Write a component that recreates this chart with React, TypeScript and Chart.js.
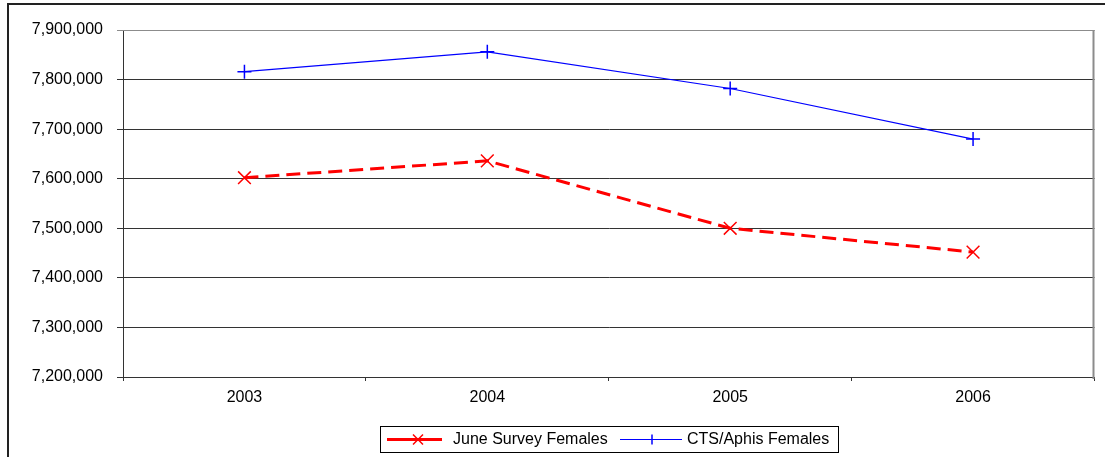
import React, { useEffect, useRef } from "react";
import { Chart, registerables } from "chart.js";

Chart.register(...registerables);

const categories = ["2003", "2004", "2005", "2006"];
const juneSurveyFemales = [7602000, 7636000, 7500000, 7452000];
const ctsAphisFemales = [7816000, 7856000, 7782000, 7680000];
const seriesNames = ["June Survey Females", "CTS/Aphis Females"];
const yMin = 7200000;
const yMax = 7900000;
const yStep = 100000;

const FONT = "'Liberation Sans', Arial, sans-serif";

const framePlugin = {
  id: "frame",
  afterDraw(chart: any) {
    const { ctx, chartArea } = chart;
    ctx.save();
    // outer border
    ctx.strokeStyle = "#222";
    ctx.lineWidth = 2;
    ctx.strokeRect(8, 4, 1300, 800);
    // plot area top/right grey frame
    ctx.strokeStyle = "#8c8c8c";
    ctx.lineWidth = 1;
    ctx.beginPath();
    ctx.moveTo(chartArea.left, chartArea.top + 0.5);
    ctx.lineTo(chartArea.right, chartArea.top + 0.5);
    ctx.stroke();
    ctx.lineWidth = 2;
    ctx.beginPath();
    ctx.moveTo(chartArea.right - 1, chartArea.top);
    ctx.lineTo(chartArea.right - 1, chartArea.bottom + 2);
    ctx.stroke();

    // legend
    ctx.strokeStyle = "#000";
    ctx.lineWidth = 1;
    ctx.strokeRect(380.5, 426.5, 458, 26);
    const ly = 439.5;
    // red entry
    ctx.strokeStyle = "#ff0000";
    ctx.lineWidth = 3;
    ctx.beginPath();
    ctx.moveTo(387, ly);
    ctx.lineTo(442, ly);
    ctx.stroke();
    ctx.lineWidth = 1.5;
    ctx.beginPath();
    ctx.moveTo(418 - 5, ly - 5);
    ctx.lineTo(418 + 5, ly + 5);
    ctx.moveTo(418 - 5, ly + 5);
    ctx.lineTo(418 + 5, ly - 5);
    ctx.stroke();
    // blue entry
    ctx.strokeStyle = "#0000ff";
    ctx.lineWidth = 1.2;
    ctx.beginPath();
    ctx.moveTo(620, ly);
    ctx.lineTo(682, ly);
    ctx.stroke();
    ctx.lineWidth = 1.5;
    ctx.beginPath();
    ctx.moveTo(652, ly - 5);
    ctx.lineTo(652, ly + 5);
    ctx.stroke();
    ctx.fillStyle = "#000";
    ctx.font = `16px ${FONT}`;
    ctx.textBaseline = "middle";
    ctx.textAlign = "left";
    ctx.fillText(seriesNames[0], 453, ly);
    ctx.fillText(seriesNames[1], 687, ly);
    ctx.restore();
  },
};

export default function App() {
  const ref = useRef<HTMLCanvasElement>(null);
  useEffect(() => {
    if (!ref.current) return;
    const chart = new Chart(ref.current, {
      type: "line",
      data: {
        labels: categories,
        datasets: [
          {
            label: seriesNames[0],
            data: juneSurveyFemales,
            borderColor: "#ff0000",
            backgroundColor: "#ff0000",
            borderWidth: 3,
            borderDash: [14, 7],
            pointStyle: "crossRot",
            pointRadius: 9,
            pointBorderWidth: 1.5,
            pointBorderColor: "#ff0000",
            tension: 0,
          },
          {
            label: seriesNames[1],
            data: ctsAphisFemales,
            borderColor: "#0000ff",
            backgroundColor: "#0000ff",
            borderWidth: 1.2,
            pointStyle: "cross",
            pointRadius: 7,
            pointBorderWidth: 1.5,
            pointBorderColor: "#0000ff",
            tension: 0,
          },
        ],
      },
      options: {
        responsive: false,
        animation: false,
        devicePixelRatio: 1,
        layout: { padding: { top: 30, right: 8, left: 0, bottom: 0 } },
        plugins: {
          legend: { display: false },
          tooltip: { enabled: false },
        },
        scales: {
          x: {
            offset: true,
            afterFit: (s: any) => {
              s.height = 80;
            },
            grid: {
              offset: true,
              drawOnChartArea: false,
              drawTicks: true,
              tickLength: 4,
              color: (c: any) => (c.index === categories.length ? "rgba(0,0,0,0)" : "#333"),
            },
            border: { display: true, color: "#333", width: 1 },
            ticks: {
              color: "#000",
              font: { family: FONT, size: 16 },
              padding: 7,
              maxRotation: 0,
            },
          },
          y: {
            min: yMin,
            max: yMax,
            afterFit: (s: any) => {
              s.width = 123;
            },
            grid: {
              color: (c: any) => (c.tick && c.tick.value === yMax ? "#8c8c8c" : "#333"),
              drawTicks: true,
              tickLength: 6,
            },
            border: { display: true, color: "#333", width: 1 },
            ticks: {
              stepSize: yStep,
              color: "#000",
              font: { family: FONT, size: 16 },
              padding: 14,
              callback: (v: any) => Number(v).toLocaleString("en-US"),
            },
          },
        },
      },
      plugins: [framePlugin],
    });
    return () => chart.destroy();
  }, []);
  return (
    <div style={{ position: "fixed", left: 0, top: 0, width: 1105, height: 457, background: "#fff" }}>
      <canvas ref={ref} width={1105} height={457} />
    </div>
  );
}
